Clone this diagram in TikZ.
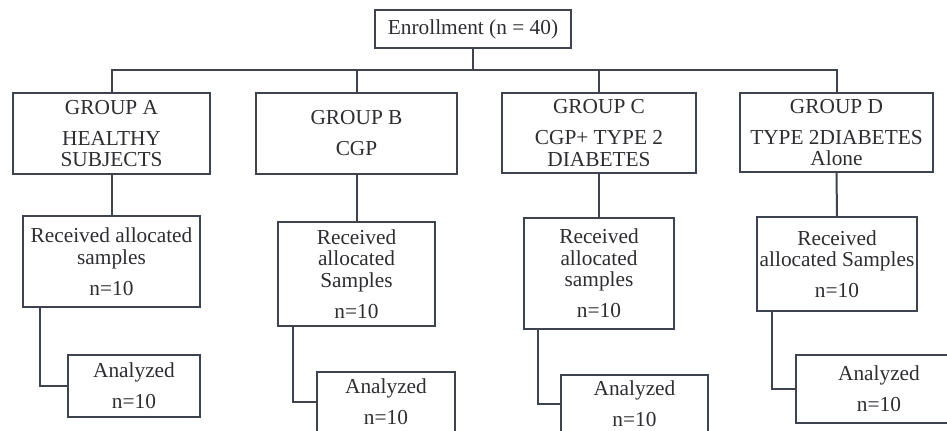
\documentclass[tikz,border=0pt]{standalone}
\usepackage{fontspec}
\setmainfont{Liberation Serif}

\definecolor{linec}{RGB}{62,67,80}
\definecolor{textc}{RGB}{45,45,50}

\tikzset{every picture/.style={line width=1.5pt}}
\tikzset{box/.style={draw=linec, inner sep=0pt, align=center, text=textc, font=\fontsize{16}{16.2}\selectfont}}

\begin{document}
\begin{tikzpicture}[x=0.75pt,y=0.75pt,yscale=-1,xscale=1]

\useasboundingbox (0,0) rectangle (947,431);

% top
\node [box, minimum width=147pt, minimum height=28.5pt] (enr) at (473,29) {Enrollment (n = 40)};
\coordinate (bus) at (473,70);

% groups
\node [box, minimum width=148pt, minimum height=61pt] (ga) at (111.5,133.5) {GROUP A\\[7pt] HEALTHY\\ SUBJECTS};
\node [box, minimum width=151pt, minimum height=61pt] (gb) at (356.5,133.5) {GROUP B\\[7pt] CGP};
\node [box, minimum width=145.5pt, minimum height=60pt] (gc) at (599,133) {GROUP C\\[7pt] CGP+ TYPE 2\\ DIABETES};
\node [box, minimum width=145pt, minimum height=59pt] (gd) at (836.5,132.5) {GROUP D\\[7pt] TYPE 2DIABETES\\ Alone};

% received
\node [box, minimum width=133pt, minimum height=68pt] (ra) at (111.5,261.5) {Received allocated\\ samples\\[7pt] n=10};
\node [box, minimum width=118pt, minimum height=78pt] (rb) at (356.5,274) {Received\\ allocated\\ Samples\\[7pt] n=10};
\node [box, minimum width=112.5pt, minimum height=83pt] (rc) at (599,273.5) {Received\\ allocated\\ samples\\[7pt] n=10};
\node [box, minimum width=120pt, minimum height=70.5pt] (rd) at (837,264) {Received\\ allocated Samples\\[7pt] n=10};

% analyzed
\node [box, minimum width=99pt, minimum height=46.5pt] (aa) at (134,386) {Analyzed\\[7pt] n=10};
\node [box, minimum width=103.5pt, minimum height=45pt] (ab) at (386,402) {Analyzed\\[7pt] n=10};
\node [box, minimum width=110pt, minimum height=43.5pt] (ac) at (634.5,404) {Analyzed\\[7pt] n=10};
\node [box, minimum width=124.5pt, minimum height=51pt] (ad) at (879,389) {Analyzed\\[7pt] n=10};

% connectors
\draw [linec] (enr.south) -- (bus);
\draw [linec] (ga.north) -- (ga.north |- bus) -- (gd.north |- bus) -- (gd.north);
\draw [linec] (gb.north) -- (gb.north |- bus);
\draw [linec] (gc.north) -- (gc.north |- bus);

\draw [linec] (ga.south) -- (ra.north);
\draw [linec] (gb.south) -- (rb.north);
\draw [linec] (gc.south) -- (rc.north);
\draw [linec] (gd.south) -- (rd.north);

\draw [linec] ([xshift=13.5pt]ra.south west) |- (aa.west);
\draw [linec] ([xshift=12pt]rb.south west) |- (ab.west);
\draw [linec] ([xshift=11.25pt]rc.south west) |- (ac.west);
\draw [linec] ([xshift=12pt]rd.south west) |- (ad.west);

\end{tikzpicture}
\end{document}
